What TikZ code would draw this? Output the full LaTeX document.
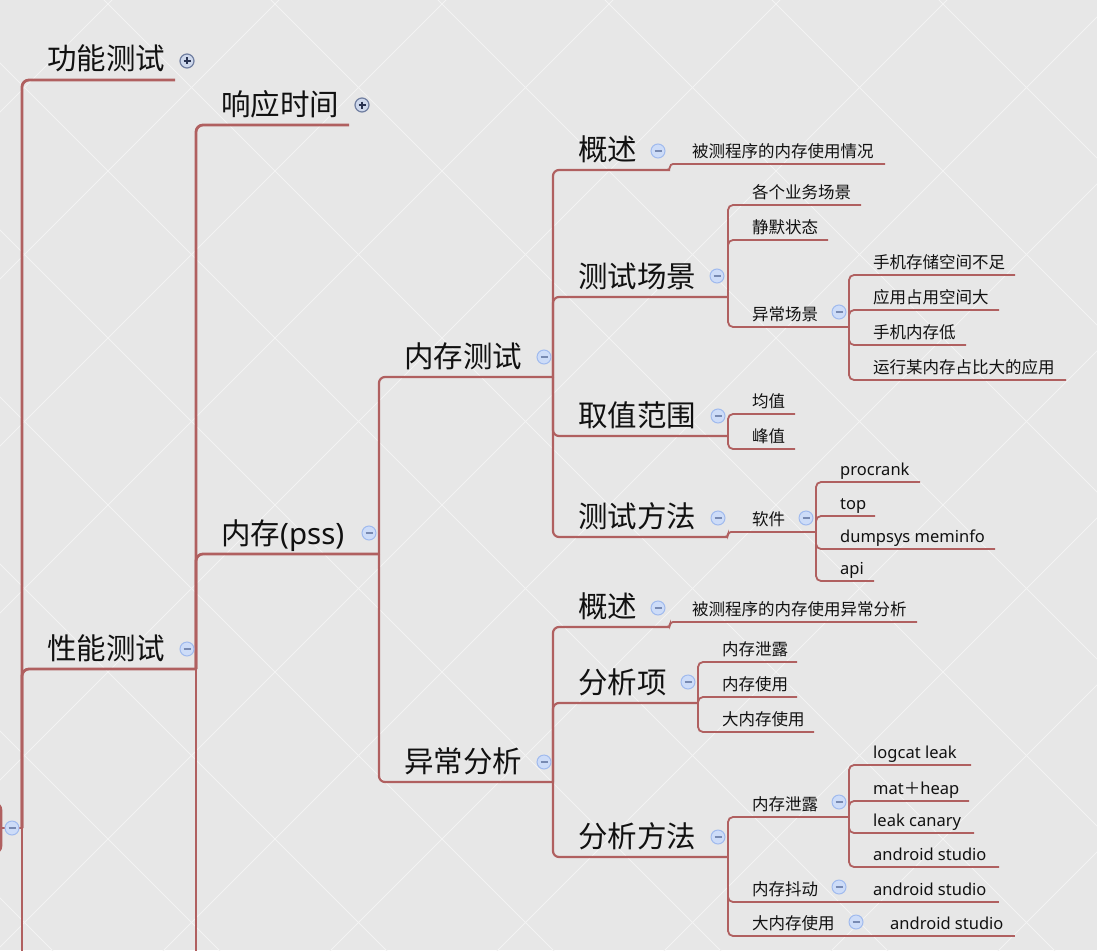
\documentclass[tikz,border=0pt]{standalone}
\usepackage{fontspec}
\setmainfont{Noto Sans CJK SC}
\newfontfamily\lat{Noto Sans}
\usetikzlibrary{calc}
\definecolor{ln}{RGB}{176,96,96}
\definecolor{bgc}{RGB}{231,231,231}
\definecolor{diagc}{RGB}{243,243,243}
\definecolor{mfill}{RGB}{205,220,248}
\definecolor{mdraw}{RGB}{160,186,238}
\definecolor{msign}{RGB}{120,138,178}
\definecolor{pfill}{RGB}{206,216,236}
\definecolor{pdraw}{RGB}{112,126,160}
\definecolor{psign}{RGB}{40,50,80}
\definecolor{txt}{RGB}{17,17,17}
\begin{document}
\begin{tikzpicture}[x=1pt,y=-1pt,
  big/.style={anchor=base west, inner sep=0pt, text=txt, font=\fontsize{29.5}{31}\selectfont},
  small/.style={anchor=base west, inner sep=0pt, text=txt, font=\fontsize{16.5}{18}\selectfont},
  lsmall/.style={small, font=\fontsize{16.5}{18}\selectfont\lat},
  conn/.style={draw=ln, line width=1.8pt, rounded corners=5pt},
  connA/.style={draw=ln, line width=2.8pt, rounded corners=7pt},
  connB/.style={draw=ln, line width=2.2pt, rounded corners=6pt},
  mbtn/.style={circle, minimum size=14pt, inner sep=0pt, fill=mfill, draw=mdraw, line width=1pt,
    path picture={\draw[msign, line width=1.3pt] ($(path picture bounding box.center)+(-3.5,0)$) -- ++(7,0);}},
  pbtn/.style={circle, minimum size=14pt, inner sep=0pt, fill=pfill, draw=pdraw, line width=1.2pt,
    path picture={\draw[psign, line width=1.3pt] ($(path picture bounding box.center)+(-3.5,0)$) -- ++(7,0)
      ($(path picture bounding box.center)+(0,-3.5)$) -- ++(0,7);}},
  diag/.style={draw=diagc, line width=1pt}
]
\useasboundingbox (0,0) rectangle (1097,950);
\clip (0,0) rectangle (1097,950);
\fill[bgc] (0,0) rectangle (1097,950);
\foreach \k in {-7,...,6} \draw[diag] ({104+167*\k-50},-50) -- ({104+167*\k+1000},1000);
\foreach \k in {-1,...,12} \draw[diag] ({112+167*\k+50},-50) -- ({112+167*\k-1000},1000);

% root (off-screen)
\node[draw=ln, line width=2.6pt, rounded corners=7pt, minimum width=200pt, minimum height=50pt, inner sep=0pt] (root) at (-99,828) {};
\coordinate (root-e) at (22,828);
\coordinate (root-d) at (22,970);

% big topics
\node[big] (gn) at (47,70) {功能测试};      \coordinate (gn-e) at (175,80);
\node[big] (xy) at (221,115) {响应时间};    \coordinate (xy-e) at (349,125);
\node[big] (xn) at (47,659) {性能测试};     \coordinate (xn-e) at (196,669);
\coordinate (xn-d) at (196,970);
\node[big] (nc) at (221,544) {内存{\lat(pss)}}; \coordinate (nc-e) at (379,554);
\node[big] (ncs) at (404,367) {内存测试};   \coordinate (ncs-e) at (553,377);
\node[big] (ycf) at (404,772) {异常分析};   \coordinate (ycf-e) at (553,782);
\node[big] (gs1) at (578,160) {概述};       \coordinate (gs1-e) at (670,170);
\node[big] (cscj) at (578,287) {测试场景};  \coordinate (cscj-e) at (728,297);
\node[big] (qzfw) at (578,426) {取值范围};  \coordinate (qzfw-e) at (728,436);
\node[big] (csff) at (578,527) {测试方法};  \coordinate (csff-e) at (728,537);
\node[big] (gs2) at (578,617) {概述};       \coordinate (gs2-e) at (670,627);
\node[big] (fxx) at (578,693) {分析项};     \coordinate (fxx-e) at (698,703);
\node[big] (fxff) at (578,847) {分析方法};  \coordinate (fxff-e) at (728,857);

% small topics
\node[small] (gs1c) at (692,157.5) {被测程序的内存使用情况}; \coordinate (gs1c-e) at (885,164);
\node[small] (ywcj) at (752,198.5) {各个业务场景}; \coordinate (ywcj-e) at (861,205);
\node[small] (jmzt) at (752,233.5) {静默状态};     \coordinate (jmzt-e) at (828,240);
\node[small] (yccj) at (752,320.5) {异常场景};     \coordinate (yccj-e) at (849,327);
\node[small] (a1) at (873,268.5) {手机存储空间不足}; \coordinate (a1-e) at (1015,275);
\node[small] (a2) at (873,303.5) {应用占用空间大};   \coordinate (a2-e) at (999,310);
\node[small] (a3) at (873,338.5) {手机内存低};       \coordinate (a3-e) at (966,345);
\node[small] (a4) at (873,373.5) {运行某内存占比大的应用}; \coordinate (a4-e) at (1066,380);
\node[small] (jz) at (752,407.5) {均值}; \coordinate (jz-e) at (795,414);
\node[small] (fz) at (752,442.5) {峰值}; \coordinate (fz-e) at (795,449);
\node[small] (rj) at (752,525.5) {软件}; \coordinate (rj-e) at (816,532);
\node[lsmall] (p1) at (840,475.5) {procrank}; \coordinate (p1-e) at (920,482);
\node[lsmall] (p2) at (840,509.5) {top};      \coordinate (p2-e) at (875,516);
\node[lsmall] (p3) at (840,542.5) {dumpsys meminfo}; \coordinate (p3-e) at (995,549);
\node[lsmall] (p4) at (840,574.5) {api};      \coordinate (p4-e) at (874,581);
\node[small] (gs2c) at (692,615.5) {被测程序的内存使用异常分析}; \coordinate (gs2c-e) at (917,622);
\node[small] (x1) at (722,655.5) {内存泄露};   \coordinate (x1-e) at (797,662);
\node[small] (x2) at (722,690.5) {内存使用};   \coordinate (x2-e) at (797,697);
\node[small] (x3) at (722,725.5) {大内存使用}; \coordinate (x3-e) at (814,732);
\node[small] (m1) at (752,810.5) {内存泄露};   \coordinate (m1-e) at (849,817);
\node[lsmall] (l1) at (873,758.5) {logcat leak}; \coordinate (l1-e) at (971,765);
\node[lsmall] (l2) at (873,794.5) {mat{\rmfamily ＋}heap}; \coordinate (l2-e) at (969,801);
\node[lsmall] (l3) at (873,826.5) {leak canary}; \coordinate (l3-e) at (974,833);
\node[lsmall] (l4) at (873,860.5) {android studio}; \coordinate (l4-e) at (999,867);
\node[small] (m2) at (752,895.5) {内存抖动};   \coordinate (m2-e) at (862,902);
\node[lsmall] (m2c) at (873,895.5) {android studio}; \coordinate (m2c-e) at (999,902);
\node[small] (m3) at (752,929.5) {大内存使用}; \coordinate (m3-e) at (878,936);
\node[lsmall] (m3c) at (890,929.5) {android studio}; \coordinate (m3c-e) at (1015,936);

% connectors
\draw[connA] (root.east) -- (root-e);
\draw[connA] (root-e) |- (gn-e);
\draw[connA] (root-e) |- (xn-e);
\draw[connA] (root-e) -- (root-d);
\draw[connA] (xn-e) |- (xy-e);
\draw[connA] (xn-e) |- (nc-e);
\draw[connA] (xn-e) -- (xn-d);
\draw[connB] (nc-e) |- (ncs-e);
\draw[connB] (nc-e) |- (ycf-e);
\foreach \c in {gs1,cscj,qzfw,csff} \draw[connB] (ncs-e) |- (\c-e);
\foreach \c in {gs2,fxx,fxff} \draw[connB] (ycf-e) |- (\c-e);
\draw[conn, rounded corners=3pt] ($(gs1-e)+(-6,0)$) -- (gs1-e) |- (gs1c-e);
\draw[conn, rounded corners=3pt] ($(gs2-e)+(-6,0)$) -- (gs2-e) |- (gs2c-e);
\draw[conn, rounded corners=3pt] ($(csff-e)+(-6,0)$) -- (csff-e) |- (rj-e);
\foreach \c in {ywcj,jmzt,yccj} \draw[conn] (cscj-e) |- (\c-e);
\foreach \c in {a1,a2,a3,a4} \draw[conn] (yccj-e) |- (\c-e);
\foreach \c in {jz,fz} \draw[conn] (qzfw-e) |- (\c-e);
\foreach \c in {p1,p2,p3,p4} \draw[conn] (rj-e) |- (\c-e);
\foreach \c in {x1,x2,x3} \draw[conn] (fxx-e) |- (\c-e);
\foreach \c in {m1,m2,m3} \draw[conn] (fxff-e) |- (\c-e);
\foreach \c in {l1,l2,l3,l4} \draw[conn] (m1-e) |- (\c-e);
\draw[conn] (m2-e) -- (m2c-e);
\draw[conn] (m3-e) -- (m3c-e);

% collapse / expand buttons
\node[mbtn] (rootb) at (12,828) {};
\node[pbtn] (gnb) at (187,61) {};
\node[pbtn] (xyb) at (362,105) {};
\node[mbtn] (xnb) at (187,649) {};
\node[mbtn] (ncb) at (369,533) {};
\node[mbtn] (ncsb) at (544,357) {};
\node[mbtn] (ycfb) at (544,762) {};
\node[mbtn] (gs1b) at (658,151) {};
\node[mbtn] (cscjb) at (717,276) {};
\node[mbtn] (yccjb) at (839,312) {};
\node[mbtn] (qzfwb) at (718,416) {};
\node[mbtn] (csffb) at (718,518) {};
\node[mbtn] (rjb) at (806,518) {};
\node[mbtn] (gs2b) at (658,608) {};
\node[mbtn] (fxxb) at (688,682) {};
\node[mbtn] (fxffb) at (718,837) {};
\node[mbtn] (m1b) at (839,802) {};
\node[mbtn] (m2b) at (839,887) {};
\node[mbtn] (m3b) at (856,922) {};
\end{tikzpicture}
\end{document}
